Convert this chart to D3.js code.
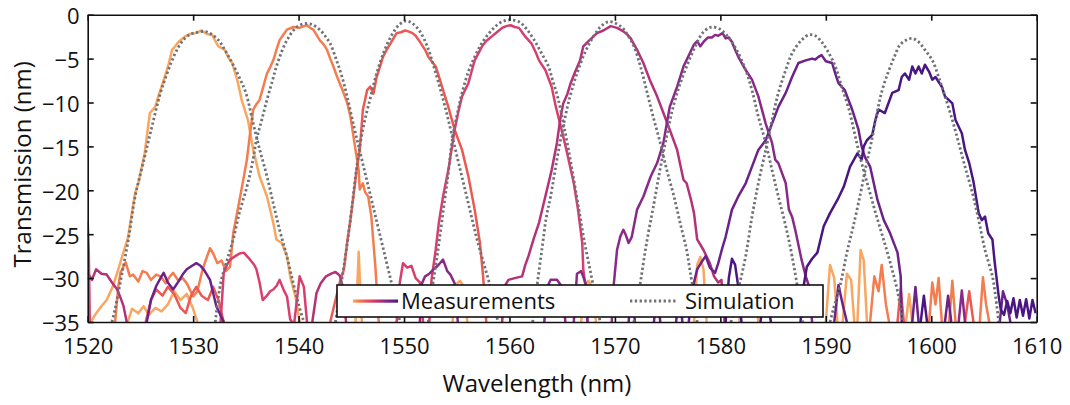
<!DOCTYPE html>
<html>
<head>
<meta charset="utf-8">
<script src="https://cdn.jsdelivr.net/npm/d3@7/dist/d3.min.js"></script>
<style>
  html, body { margin: 0; padding: 0; background: #ffffff; }
  svg { display: block; }
  text { font-family: "Open Sans", "Noto Sans", sans-serif; fill: #111; }
</style>
</head>
<body>
<svg id="chart" width="1070" height="405"></svg>
<script>
// ---------------- DATA ----------------
const xTicks = [1520, 1530, 1540, 1550, 1560, 1570, 1580, 1590, 1600, 1610];
const yTicks = [0, -5, -10, -15, -20, -25, -30, -35];
const xLabel = "Wavelength (nm)";
const yLabel = "Transmission (nm)";
const legendLabels = ["Measurements", "Simulation"];
const seriesColors = ["#f8a660", "#f47d50", "#ea5a52", "#d93f6c", "#b33278", "#8a2a88", "#6c2289", "#4a1782"];

// measured spectra: [wavelength nm, transmission dB]; null separates pieces
const meas1530 = [
  [1520.3,-35],[1520.8,-34],[1521.3,-33.2],[1521.8,-32.5],[1522.4,-30.9],[1522.9,-29.0],[1523.4,-27.0],[1523.8,-25.5],[1524.2,-22.5],[1524.5,-20.3],[1524.8,-19.2],[1525.1,-17.5],[1525.4,-15.8],[1525.7,-13],[1525.9,-11.2],[1526.4,-10.5],[1526.7,-9.3],[1527.0,-8.2],[1527.3,-7.1],[1527.7,-5.5],[1528.0,-4.0],[1528.3,-3.6],[1528.6,-3.1],[1529.2,-2.5],[1529.7,-2.2],[1530.2,-2.1],[1530.8,-1.8],[1531.3,-2.2],[1531.8,-2.3],[1532.1,-3.0],[1532.4,-3.6],[1533.0,-4.0],[1533.4,-5.0],[1533.7,-5.5],[1534.2,-7.5],[1534.6,-9.7],[1535.2,-12.0],[1535.7,-15.4],[1536.3,-18.4],[1537.0,-20.7],[1537.6,-23.7],[1537.9,-25.6],[1538.4,-26.0],[1538.9,-27.5],[1539.2,-29.8],[1539.7,-32.1],[1540.1,-35],
  null,[1523.8,-35],[1524.2,-33.5],[1524.8,-34],[1525.3,-33.2],[1525.8,-34.2],[1526.4,-33.4],[1527,-33.8],[1527.6,-33],[1528.2,-31.5],[1528.8,-32.5],[1529.4,-31.8],[1530,-33.5],[1530.4,-35],
  null,[1545.4,-35],[1545.6,-30],[1545.7,-27],[1545.8,-30],[1546,-35],
  null,[1554.6,-35],[1554.9,-30.8],[1555.3,-30.3],[1555.7,-31],[1556,-35],
  null,[1566.8,-35],[1567.1,-31],[1567.5,-30.3],[1567.9,-31.2],[1568.2,-35],
  null,[1577.5,-35],[1577.8,-28.5],[1578.1,-27.6],[1578.4,-29],[1578.7,-35],
  null,[1581.8,-35],[1582.1,-31],[1582.5,-32],[1582.9,-30.8],[1583.3,-32],[1583.6,-35],
  null,[1590.0,-35],[1590.4,-28.5],[1590.8,-30],[1591.1,-35],
  null,[1591.6,-35],[1592.0,-29.5],[1592.4,-30.2],[1592.7,-35],
  null,[1593.0,-35],[1593.3,-26.8],[1593.6,-28],[1593.9,-35],
  null,[1597.6,-35],[1597.9,-31.8],[1598.2,-35]
];
const meas1540 = [
  [1522.6,-35],[1522.9,-31],[1523.1,-29.4],[1523.6,-28.2],[1524.0,-29.8],[1524.3,-29.6],[1524.8,-30.4],[1525.2,-29.2],[1525.6,-29.4],[1526.0,-30.2],[1526.5,-29.6],[1526.9,-29.8],[1527.4,-30.6],[1527.8,-29.8],[1528.1,-29.4],[1528.6,-30.3],[1529.0,-30],[1529.4,-30.6],[1530.0,-32.1],[1530.4,-31.5],[1530.9,-29],[1531.3,-27.6],[1531.6,-26.6],[1531.9,-27.2],[1532.3,-28.3],[1532.7,-28.0],[1533.1,-29.2],[1533.5,-28.7],
  [1533.8,-24.9],[1534.1,-23],[1534.4,-21.1],[1534.8,-18.5],[1535.1,-16.5],[1535.4,-13.5],[1535.7,-10.8],[1536.0,-10.2],[1536.3,-9.7],[1536.7,-8.0],[1537.0,-6.7],[1537.3,-6.0],[1537.6,-5.2],[1537.9,-4.0],[1538.2,-2.9],[1538.6,-2.2],[1538.9,-1.7],[1539.5,-1.4],[1540.1,-1.5],[1540.5,-1.3],[1540.8,-1.2],[1541.1,-1.5],[1541.4,-1.7],[1542.0,-2.9],[1542.4,-3.4],[1542.7,-4.0],[1543.0,-5.0],[1543.3,-5.9],[1543.6,-6.9],[1543.9,-7.8],[1544.2,-8.7],[1544.6,-10],[1544.9,-11.5],[1545.4,-15.4],[1545.7,-17.7],[1545.8,-19.9],[1546.1,-19.2],[1546.3,-20.2],[1546.6,-20.7],[1546.9,-23.0],[1547.1,-26.0],[1547.3,-29.0],[1547.6,-35],
  null,[1594.2,-35],[1594.6,-29.8],[1595.0,-31.5],[1595.3,-28.5],[1595.7,-33],[1596.0,-35],
  null,[1599.8,-35],[1600.1,-30.5],[1600.4,-33],[1600.7,-30],[1601.0,-35],
  null,[1601.7,-35],[1602.0,-30.3],[1602.3,-35],
  null,[1604.6,-35],[1604.9,-29.9],[1605.2,-33],[1605.5,-35]
];
const meas1550 = [
  [1543.0,-35],[1543.5,-32.5],[1543.9,-30.5],[1544.3,-29.0],[1544.6,-26.0],[1544.9,-23.5],[1545.2,-20.7],[1545.5,-17.7],[1545.8,-15.4],[1546.1,-10.8],[1546.5,-8.6],[1546.8,-8.2],[1547.1,-9.0],[1547.4,-7.1],[1547.7,-6.0],[1548.0,-4.8],[1548.4,-3.9],[1548.7,-3.3],[1549.3,-2.1],[1549.7,-2.0],[1550.1,-1.8],[1550.4,-1.9],[1550.8,-2.1],[1551.1,-2.4],[1551.4,-2.9],[1552.0,-4.0],[1552.3,-4.8],[1553.0,-5.9],[1553.3,-7.0],[1553.6,-8.2],[1554.2,-10.5],[1554.8,-13.1],[1555.5,-15.4],[1556.1,-18.4],[1556.7,-22.2],[1557.2,-26.0],[1557.5,-29.8],[1557.8,-35],
  null,[1525.5,-35],[1526.0,-32.5],[1526.5,-31.3],[1527.1,-32],[1527.6,-31],[1528.2,-31.8],[1528.8,-33.4],[1529.3,-34],[1529.8,-32],[1530.3,-31],[1530.8,-32],[1531.4,-32.5],[1531.9,-31],[1532.4,-32.5],[1532.9,-35],
  null,[1596.8,-35],[1597.1,-31.2],[1597.4,-35],
  null,[1603.2,-35],[1603.6,-31.5],[1604,-35]
];
const meas1560 = [
  [1552.4,-35],[1552.6,-30.2],[1553.0,-26.8],[1553.3,-23.7],[1553.7,-20.7],[1554.2,-17.7],[1554.8,-13.1],[1555.2,-10.8],[1555.5,-9.3],[1556.1,-7.8],[1556.4,-6.5],[1556.7,-5.2],[1557.4,-3.6],[1557.8,-3.0],[1558.3,-2.5],[1558.8,-2.0],[1559.3,-1.5],[1559.7,-1.3],[1560.1,-1.2],[1560.5,-1.4],[1560.9,-1.5],[1561.2,-2.0],[1561.5,-2.5],[1562.1,-3.3],[1562.5,-4.3],[1562.8,-5.2],[1563.4,-6.3],[1564.0,-8.2],[1564.4,-10.5],[1564.8,-12.4],[1565.4,-15.4],[1566.1,-19.2],[1566.5,-22.2],[1566.9,-26.0],[1567.0,-29.0],[1567.2,-30.9],[1567.4,-35],
  null,[1520.0,-23.5],[1520.1,-27],[1520.15,-31],[1520.2,-35],
  null,[1532.6,-35],[1532.9,-29.4],[1533.2,-28.5],[1533.5,-27.9],[1534.0,-27.5],[1534.4,-27.2],[1534.8,-27.1],[1535.1,-27.5],[1535.4,-27.9],[1535.8,-28.5],[1536.0,-29.0],[1536.3,-30.5],[1536.6,-32.5],[1537.0,-32.0],[1537.3,-31.5],[1537.6,-31.3],[1537.9,-30.9],[1538.2,-30.2],[1538.6,-31.4],[1538.9,-32.1],[1539.2,-34.7],[1539.4,-35],
  null,[1539.6,-35],[1540.1,-29.8],[1540.5,-31],[1540.8,-35],
  null,[1549.3,-35],[1549.6,-30.5],[1549.9,-28.3],[1550.3,-28.8],[1550.7,-28.6],[1551.1,-30.0],[1551.5,-30.5],[1551.8,-35]
];
const meas1570 = [
  [1559.3,-35],[1559.6,-30.8],[1559.9,-30.2],[1560.5,-30.0],[1561.2,-29.8],[1561.5,-28.5],[1561.8,-27.5],[1562.3,-25.5],[1562.8,-23.7],[1563.4,-20.7],[1564.0,-17.7],[1564.5,-14.6],[1564.8,-12.0],[1565.1,-10.1],[1565.5,-9.0],[1565.8,-7.8],[1566.3,-6.3],[1566.7,-5.2],[1567.0,-3.6],[1567.5,-3.0],[1568.3,-2.1],[1568.9,-1.8],[1569.6,-1.3],[1570.2,-1.5],[1570.8,-1.9],[1571.2,-2.3],[1571.5,-2.7],[1572.1,-4.0],[1572.7,-5.5],[1573.3,-7.4],[1574.0,-9.3],[1574.6,-11.2],[1575.2,-13.1],[1575.9,-15.4],[1576.5,-18.8],[1576.8,-19.2],[1577.2,-21.0],[1577.5,-22.6],[1577.8,-25.6],[1578.4,-26.8],[1579.0,-28.3],[1579.4,-29.8],[1579.8,-30.5],[1580.1,-30.2],[1580.4,-35],
  null,[1520.0,-29.4],[1520.4,-30.2],[1520.8,-29.0],[1521.3,-29.5],[1521.8,-29.6],[1522.3,-30.5],[1522.8,-31.3],[1523.1,-32.2],[1523.4,-33.2],[1523.7,-35],
  null,[1541.3,-35],[1541.7,-31.7],[1542.1,-30.6],[1542.6,-29.8],[1543.1,-29.5],[1543.5,-29.3],[1543.9,-29.7],[1544.2,-31],[1544.5,-35]
];
const meas1580 = [
  [1569.7,-35],[1569.9,-30.6],[1570.2,-26.8],[1570.5,-25.3],[1570.8,-24.5],[1571.0,-25.0],[1571.3,-26.0],[1571.6,-25.3],[1572.1,-22.2],[1572.7,-20.7],[1573.4,-18.4],[1574.0,-16.9],[1574.6,-14.6],[1574.9,-12.5],[1575.2,-10.5],[1575.9,-8.2],[1576.5,-5.9],[1577.1,-4.4],[1577.5,-3.4],[1577.8,-3.0],[1578.1,-3.6],[1578.4,-3.1],[1578.8,-2.6],[1579.2,-2.6],[1579.5,-2.3],[1579.8,-2.4],[1580.2,-2.1],[1580.5,-2.7],[1580.8,-2.6],[1581.1,-3.1],[1581.4,-4.0],[1581.7,-4.8],[1582.4,-6.3],[1583.0,-7.4],[1583.6,-9.3],[1584.3,-12.4],[1584.9,-14.6],[1585.2,-16.5],[1585.5,-16.9],[1586.2,-19.2],[1586.5,-22.2],[1586.8,-23.0],[1587.1,-24.5],[1587.7,-27.9],[1588.1,-29.8],[1588.4,-30.9],[1588.7,-35],
  null,[1551.5,-35],[1551.7,-30.6],[1552.0,-29.8],[1552.4,-29.5],[1552.8,-29.0],[1553.2,-28.6],[1553.7,-27.9],[1554.1,-29.2],[1554.4,-29.6],[1554.8,-30.6],[1555.1,-35],
  null,[1563.3,-35],[1563.6,-31],[1563.9,-30.2],[1564.5,-30.2],[1565.0,-31],[1565.3,-35],
  null,[1566.1,-35],[1566.4,-29.5],[1566.8,-29.2],[1567.2,-30.5],[1567.4,-35],
  null,[1602.6,-35],[1602.9,-31.4],[1603.2,-35]
];
const meas1590 = [
  [1577.0,-35],[1577.4,-31],[1577.8,-29],[1578.2,-28.2],[1578.6,-27.5],[1579.0,-28.8],[1579.5,-29.4],[1579.8,-28.3],[1580.2,-26.5],[1580.5,-25.3],[1581.1,-22.2],[1581.7,-20.7],[1582.4,-19.2],[1583.0,-17.3],[1583.6,-15.4],[1584.3,-14.3],[1584.9,-12.4],[1585.5,-10.5],[1586.2,-8.9],[1586.8,-7.1],[1587.4,-5.5],[1588.1,-5.2],[1588.7,-5.0],[1589.0,-5.1],[1589.3,-4.8],[1589.6,-4.6],[1590.0,-5.3],[1590.6,-5.5],[1590.9,-6.7],[1591.2,-7.8],[1591.8,-8.6],[1592.5,-10.8],[1593.1,-13.1],[1593.4,-15.0],[1593.7,-16.2],[1594.2,-17.3],[1594.9,-21.1],[1595.5,-23.4],[1596.1,-24.9],[1596.8,-27.1],[1597.1,-29.8],[1597.2,-35],
  null,[1525.6,-35],[1526.0,-32.5],[1526.5,-30.9],[1527.0,-29.8],[1527.2,-29.4],[1527.6,-30.5],[1528.1,-31.3],[1528.6,-30.4],[1529.0,-29.6],[1529.4,-29.0],[1529.9,-28.6],[1530.3,-28.3],[1530.7,-28.6],[1531.0,-29.0],[1531.6,-30.2],[1532.2,-33.2],[1532.9,-35],
  null,[1571.3,-35],[1571.6,-31],[1571.9,-35],
  null,[1573.7,-35],[1574,-31.2],[1574.3,-35],
  null,[1575.8,-35],[1576.1,-31.6],[1576.4,-35],
  null,[1590.8,-35],[1591.2,-30.8],[1591.6,-33],[1592.0,-35],
  null,[1598.2,-35],[1598.5,-31],[1598.8,-35],
  null,[1601.3,-35],[1601.6,-32],[1601.9,-35],
  null,[1606.5,-35],[1606.8,-31.5],[1607.2,-33],[1607.5,-35]
];
const meas1600 = [
  [1587.6,-35],[1587.9,-30.9],[1588.2,-28.7],[1588.7,-27.8],[1589.2,-27.1],[1589.8,-24.1],[1590.4,-22.6],[1591.1,-21.1],[1591.7,-19.6],[1592.3,-17.3],[1593.0,-15.8],[1593.4,-16.5],[1593.6,-15.0],[1593.9,-14.3],[1594.4,-13.7],[1594.7,-12.0],[1595.0,-10.8],[1595.6,-11.2],[1596.3,-8.9],[1596.9,-8.6],[1597.2,-7.1],[1597.5,-6.7],[1597.9,-7.4],[1598.2,-5.9],[1598.5,-6.7],[1598.8,-5.9],[1599.1,-6.7],[1599.4,-5.7],[1599.8,-6.5],[1600.1,-7.4],[1600.4,-7.1],[1601.0,-8.2],[1601.3,-9.3],[1602.0,-10.1],[1602.3,-12.0],[1602.9,-13.5],[1603.2,-15.4],[1603.6,-16.9],[1604.0,-19],[1604.5,-22.6],[1604.8,-23.4],[1605.1,-23.0],[1605.4,-24.9],[1605.8,-25.6],[1606.0,-28],[1606.4,-32.1],[1606.6,-33.6],[1606.9,-34.2],[1607.2,-32.6],[1607.5,-34],[1607.8,-32.3],[1608.1,-34.5],[1608.4,-32.5],[1608.7,-34.3],[1609.0,-32.4],[1609.3,-34.6],[1609.6,-32.5],[1609.9,-34],
  null,[1580.5,-35],[1580.8,-30],[1581.1,-27.8],[1581.4,-28.5],[1581.7,-31],[1582.0,-35],
  null,[1583.8,-35],[1584.1,-32.3],[1584.5,-33],[1584.8,-35],
  null,[1599.0,-35],[1599.3,-32],[1599.6,-35]
];
const measured = [meas1530, meas1540, meas1550, meas1560, meas1570, meas1580, meas1590, meas1600];

// simulated spectra
const sim1530 = [[1522.3,-35],[1522.6,-33.5],[1523.2,-29.8],[1523.9,-25.3],[1524.5,-20.7],[1525.4,-16.2],[1526.1,-12.7],[1526.9,-8.9],[1527.5,-6.8],[1528.0,-5.2],[1528.6,-3.7],[1529.2,-2.7],[1529.8,-2.2],[1530.4,-2.0],[1531.1,-1.9],[1531.7,-2.2],[1532.4,-2.9],[1533.0,-4.0],[1533.7,-5.5],[1534.4,-7.2],[1535.0,-8.9],[1535.7,-12.4],[1536.3,-15.3],[1537.0,-18.4],[1537.6,-21.5],[1538.2,-24.5],[1538.9,-27.6],[1539.5,-30.6],[1540.0,-33],[1540.5,-35]];
const sim1540 = [[1532.1,-35],[1532.6,-30.6],[1533.2,-28],[1533.8,-25.6],[1534.4,-22.5],[1535.1,-19.6],[1535.6,-17],[1536.0,-14.3],[1536.5,-12],[1537.0,-9.7],[1537.5,-7.6],[1537.9,-5.9],[1538.4,-4.2],[1538.9,-2.9],[1539.5,-1.8],[1540.1,-1.2],[1540.8,-1.0],[1541.4,-1.2],[1542.0,-1.7],[1542.5,-2.4],[1543.0,-3.3],[1543.6,-5.2],[1544.1,-7.0],[1544.6,-9.3],[1545.2,-12.5],[1545.8,-15.5],[1546.4,-18.5],[1547.0,-21.5],[1547.6,-24.5],[1548.2,-27.5],[1548.8,-30.5],[1549.3,-33],[1549.6,-35]];
const sim1550 = [[1543.5,-35],[1544.0,-31],[1544.5,-27],[1545.0,-22.5],[1545.5,-17.5],[1546.1,-13],[1546.8,-9.5],[1547.4,-6.7],[1548.1,-4.2],[1548.8,-2.4],[1549.5,-1.2],[1550.2,-0.7],[1550.8,-1.0],[1551.5,-1.9],[1552.2,-3.6],[1552.8,-5.8],[1553.4,-8.3],[1554.0,-11.0],[1554.5,-13.5],[1555.1,-16.5],[1555.7,-19.5],[1556.3,-22.5],[1556.9,-25.5],[1557.6,-28.5],[1558.3,-31.5],[1558.9,-35]];
const sim1560 = [[1552.3,-35],[1552.7,-31],[1553.2,-27],[1553.7,-22.5],[1554.2,-18],[1554.6,-14],[1555.1,-11],[1555.5,-8.9],[1556.1,-6.5],[1556.7,-4.8],[1557.3,-3.4],[1558.0,-2.2],[1558.7,-1.3],[1559.3,-0.8],[1560.0,-0.6],[1560.9,-0.8],[1561.6,-1.6],[1562.3,-2.8],[1563.0,-4.3],[1563.7,-5.9],[1564.1,-7.5],[1564.6,-9.5],[1565.1,-12.3],[1565.6,-15.4],[1566.1,-18.8],[1566.6,-22.3],[1567.1,-25.8],[1567.7,-29.4],[1568.2,-32.5],[1568.6,-35]];
const sim1570 = [[1562.2,-35],[1562.6,-31],[1563.1,-26.5],[1563.5,-23],[1563.9,-20.7],[1564.5,-16.5],[1565.1,-12.7],[1565.7,-9.5],[1566.4,-6.7],[1567.2,-4.2],[1568.0,-2.4],[1568.7,-1.3],[1569.4,-0.8],[1570.1,-1.0],[1570.8,-1.6],[1571.3,-2.5],[1571.8,-3.6],[1572.4,-5.8],[1573.0,-8.6],[1573.6,-11.5],[1574.3,-14.6],[1574.9,-17.6],[1575.6,-20.7],[1576.2,-23.8],[1576.8,-26.8],[1577.1,-29.0],[1577.5,-32],[1577.8,-35]];
const sim1580 = [[1571.8,-35],[1572.4,-30.6],[1573.0,-26],[1573.7,-21.5],[1574.3,-17.5],[1574.9,-13.9],[1575.5,-10.6],[1576.2,-7.8],[1577.0,-5.3],[1577.7,-3.4],[1578.3,-2.1],[1578.9,-1.5],[1579.3,-1.4],[1579.9,-1.6],[1580.5,-2.2],[1581.4,-3.7],[1582.4,-6.3],[1583.0,-8.6],[1583.6,-11.6],[1584.3,-14.6],[1584.9,-17.7],[1585.5,-20.7],[1586.2,-24.1],[1586.8,-27.5],[1587.4,-31.7],[1587.8,-35]];
const sim1590 = [[1581.0,-35],[1581.7,-31.3],[1582.4,-27.5],[1583.0,-23.0],[1583.6,-19.2],[1584.3,-15.4],[1584.9,-12.0],[1585.5,-8.9],[1586.2,-6.3],[1586.8,-4.4],[1587.7,-2.9],[1588.4,-2.3],[1589.0,-2.4],[1589.6,-3.1],[1590.3,-4.4],[1590.9,-5.9],[1591.5,-8.2],[1592.2,-10.8],[1592.8,-13.9],[1593.4,-16.9],[1594.1,-19.9],[1594.7,-22.5],[1595.4,-25.3],[1596.1,-28.2],[1596.8,-31.5],[1597.3,-35]];
const sim1600 = [[1590.4,-35],[1590.7,-33.6],[1591.4,-30.6],[1592.0,-27.1],[1592.6,-24.1],[1593.3,-20.3],[1593.8,-17.3],[1594.3,-14.6],[1594.8,-11.5],[1595.3,-8.8],[1595.9,-6.6],[1596.5,-4.8],[1597.0,-3.5],[1597.6,-2.9],[1598.2,-2.7],[1598.8,-3.1],[1599.4,-4.0],[1600.1,-5.2],[1600.7,-7.1],[1601.3,-9.3],[1602.0,-12.0],[1602.6,-14.6],[1603.2,-17.3],[1603.9,-20.3],[1604.5,-23.4],[1605.1,-26.8],[1605.8,-29.8],[1606.1,-32.1],[1606.4,-35]];
const simulated = [sim1530, sim1540, sim1550, sim1560, sim1570, sim1580, sim1590, sim1600];

// ---------------- CHART ----------------
const svg = d3.select("#chart");
const W = 1070, H = 405;
const margin = { left: 87.7, right: W - 1036.7, top: 14.7, bottom: H - 322 };
const x = d3.scaleLinear().domain([1520, 1610]).range([margin.left, W - margin.right]);
const y = d3.scaleLinear().domain([-35, 0]).range([H - margin.bottom, margin.top]);

svg.append("defs").append("clipPath").attr("id", "plotclip")
  .append("rect")
  .attr("x", x(1520)).attr("y", y(0))
  .attr("width", x(1610) - x(1520)).attr("height", y(-35) - y(0));

const line = d3.line()
  .defined(d => d != null)
  .x(d => x(d[0])).y(d => y(d[1]));
const simLine = d3.line()
  .x(d => x(d[0])).y(d => y(d[1]))
  .curve(d3.curveCatmullRom.alpha(0.5));

const plot = svg.append("g").attr("clip-path", "url(#plotclip)");

measured.forEach((s, i) => {
  plot.append("path")
    .attr("d", line(s))
    .attr("fill", "none")
    .attr("stroke", seriesColors[i])
    .attr("stroke-width", 2.5)
    .attr("stroke-linejoin", "round");
});
simulated.forEach(s => {
  plot.append("path")
    .attr("d", simLine(s))
    .attr("fill", "none")
    .attr("stroke", "#6e7276")
    .attr("stroke-width", 2.8)
    .attr("stroke-dasharray", "2.3,2.5");
});

// axes (inward ticks on all four sides)
const tick = 6;
const axB = svg.append("g").attr("transform", `translate(0,${y(-35)})`)
  .call(d3.axisBottom(x).tickValues(xTicks).tickSizeInner(-tick).tickSizeOuter(0).tickPadding(16).tickFormat(d3.format("d")));
const axT = svg.append("g").attr("transform", `translate(0,${y(0)})`)
  .call(d3.axisTop(x).tickValues(xTicks).tickSizeInner(-tick).tickSizeOuter(0).tickFormat(""));
const axL = svg.append("g").attr("transform", `translate(${x(1520)},0)`)
  .call(d3.axisLeft(y).tickValues(yTicks).tickSizeInner(-tick).tickSizeOuter(0).tickPadding(8).tickFormat(d3.format("d")));
const axR = svg.append("g").attr("transform", `translate(${x(1610)},0)`)
  .call(d3.axisRight(y).tickValues(yTicks).tickSizeInner(-tick).tickSizeOuter(0).tickFormat(""));

[axB, axT, axL, axR].forEach(a => {
  a.select(".domain").attr("stroke", "#111").attr("stroke-width", 1.6);
  a.selectAll(".tick line").attr("stroke", "#111").attr("stroke-width", 1.6);
  a.selectAll(".tick text").attr("fill", "#111")
    .style("font-family", '"Open Sans", "Noto Sans", sans-serif').style("font-size", "22px");
});
axL.selectAll(".tick text").attr("dy", "0.4em");

// axis titles
svg.append("text").attr("x", 537).attr("y", 392)
  .attr("text-anchor", "middle").style("font-size", "24px").text(xLabel);
svg.append("text").attr("transform", `translate(31,${(y(0) + y(-35)) / 2 - 4}) rotate(-90)`)
  .attr("text-anchor", "middle").style("font-size", "24px").text(yLabel);

// legend
const grad = svg.select("defs").append("linearGradient").attr("id", "measGrad")
  .attr("x1", "0%").attr("x2", "100%");
seriesColors.forEach((c, i) => {
  grad.append("stop").attr("offset", (i / (seriesColors.length - 1) * 100) + "%").attr("stop-color", c);
});
const lg = svg.append("g");
lg.append("rect").attr("x", 337).attr("y", 285).attr("width", 486).attr("height", 32)
  .attr("fill", "#fff").attr("stroke", "#111").attr("stroke-width", 1.6);
lg.append("rect").attr("x", 353).attr("y", 299.5).attr("width", 45).attr("height", 3.2)
  .attr("fill", "url(#measGrad)");
lg.append("text").attr("x", 401).attr("y", 309).style("font-size", "22px").text(legendLabels[0]);
lg.append("line").attr("x1", 630).attr("x2", 677).attr("y1", 301).attr("y2", 301)
  .attr("stroke", "#6e7276").attr("stroke-width", 2.8).attr("stroke-dasharray", "2.3,2.5");
lg.append("text").attr("x", 685).attr("y", 309).style("font-size", "22px").text(legendLabels[1]);
</script>
</body>
</html>
